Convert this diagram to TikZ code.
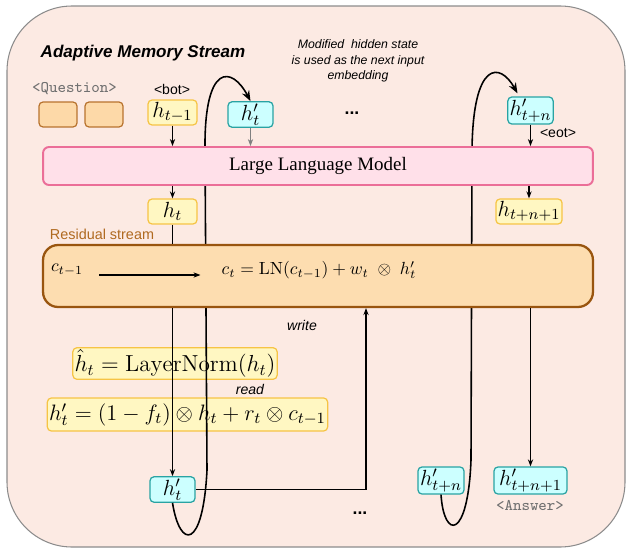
\RequirePackage{fix-cm}
\documentclass[tikz,border=0pt]{standalone}
\usepackage{amsmath}
\usepackage{fontspec}
\setsansfont{Liberation Sans}
\newfontfamily\llmfont{Liberation Serif}
\usetikzlibrary{arrows.meta,calc}

\definecolor{bgpeach}{HTML}{FCEAE3}
\definecolor{frameGray}{HTML}{8C8C8C}
\definecolor{yfill}{HTML}{FFF7C2}
\definecolor{ybord}{HTML}{F6C445}
\definecolor{cfill}{HTML}{CCFFFF}
\definecolor{cbord}{HTML}{29A3A3}
\definecolor{ofill}{HTML}{FDD9A8}
\definecolor{obord}{HTML}{B8732E}
\definecolor{llmFill}{HTML}{FFE0E9}
\definecolor{llmBord}{HTML}{EB6E98}
\definecolor{resFill}{HTML}{FDDDB0}
\definecolor{resBord}{HTML}{99550F}
\definecolor{resText}{HTML}{B06A20}
\definecolor{tagGray}{HTML}{707070}

\begin{document}
\begin{tikzpicture}[x=0.02cm, y=-0.02cm,
  tok/.style={draw, rounded corners=0.08cm, line width=0.7pt, inner sep=1pt,
    minimum height=0.5cm, font=\fontsize{12.5}{15}\selectfont},
  ybox/.style={tok, draw=ybord, fill=yfill},
  cbox/.style={tok, draw=cbord, fill=cfill},
  obox/.style={tok, draw=obord, fill=ofill, minimum width=0.76cm},
  lbl/.style={font=\sffamily\fontsize{8}{10}\selectfont},
  lbli/.style={font=\sffamily\itshape\fontsize{8}{10}\selectfont},
  tag/.style={font=\ttfamily\fontsize{9.2}{11}\selectfont, text=tagGray},
  dots/.style={font=\sffamily\bfseries\fontsize{10}{12}\selectfont},
  link/.style={-{Stealth[length=4pt,width=3pt]}, line width=0.6pt},
  loop/.style={-{Stealth[length=6pt,width=4.5pt]}, line width=0.9pt},
]
  \useasboundingbox (0,0) rectangle (629,551);
  % Frame
  \draw[draw=frameGray, fill=bgpeach, rounded corners=1.3cm, line width=0.6pt]
    (7,6) rectangle (625,547);
  \node[font=\sffamily\bfseries\itshape\fontsize{9.7}{12}\selectfont] (title) at (143,53)
    {Adaptive Memory Stream};
  \node[align=center, font=\sffamily\itshape\fontsize{7}{8.8}\selectfont] (note) at (358,61)
    {Modified\ \ hidden state\\is used as the next input\\embedding};
  % Inputs
  \node[tag] (qlbl) at (74.5,89) {<Question>};
  \node[obox] (q1) at (58,114.5) {};
  \node[obox] (q2) at (104,114.5) {};
  \node[lbl] (bot) at (172,89) {<bot>};
  \node[ybox, minimum width=0.98cm] (hprev) at (172.5,112.5) {$h_{t-1}$};
  \node[cbox, minimum width=0.9cm] (hp) at (250.5,114.5) {$h'_t$};
  \node[dots] (dtop) at (352,113) {...};
  \node[cbox, minimum width=0.9cm] (hpn1) at (530.5,110.5) {$h'_{t+n}$};
  \node[lbl] (eot) at (558,133) {<eot>};
  % Outputs of the model
  \node[ybox, minimum width=0.98cm] (ht) at (172.5,211.5) {$h_t$};
  \node[ybox, minimum width=1.28cm] (htn1) at (529,211.5) {$h_{t+n+1}$};
  \node[font=\sffamily\fontsize{8.2}{10}\selectfont, text=resText] (rlbl) at (102,234)
    {Residual stream};
  % Read step
  \node[ybox, font=\fontsize{13.2}{16}\selectfont, minimum width=4.08cm, minimum height=0.46cm]
    (ln) at (175,363.5) {$\hat{h}_t = \mathrm{LayerNorm}(h_t)$};
  \node[lbli] (read) at (250,389) {read};
  \node[ybox, font=\fontsize{12.7}{15}\selectfont, minimum width=5.58cm, minimum height=0.66cm]
    (hform) at (187.5,414.5) {$h'_t = (1-f_t)\otimes h_t + r_t\otimes c_{t-1}$};
  \node[lbli] (write) at (302,325) {write};
  % Modified states
  \node[cbox, minimum width=0.9cm] (hpt) at (172.5,489.5) {$h'_t$};
  \node[dots] (dbot) at (360,513) {...};
  \node[cbox, minimum width=0.92cm] (hpn) at (441,480.5) {$h'_{t+n}$};
  \node[cbox, minimum width=1.46cm] (hpn2) at (530.5,480.5) {$h'_{t+n+1}$};
  \node[tag] (ans) at (530,505) {<Answer>};
  % Feedback loops
  \draw[loop] (hpt.south) .. controls (180,550) and (203,550) .. (207,470)
    -- (205,150) .. controls (204,62) and (232,66) .. (hp.north);
  \draw[loop] (hpn.south) .. controls (444,540) and (468,540) .. (471,460)
    -- (472,150) .. controls (473,60) and (500,62) .. ($(hpn1.north)+(-13,-3)$);
  % Model and residual stream
  \node[draw=llmBord, fill=llmFill, line width=1.1pt, rounded corners=0.12cm,
    minimum width=11cm, minimum height=0.76cm, font=\llmfont\fontsize{10.8}{13}\selectfont]
    (llm) at (318,166) {Large Language Model};
  \node[draw=resBord, fill=resFill, line width=1.3pt, rounded corners=0.3cm,
    minimum width=11cm, minimum height=1.24cm] (res) at (318,276) {};
  \node (cprev) at (67,270) {$c_{t-1}$};
  \node (cnew) at (319,270) {$c_t = \mathrm{LN}(c_{t-1}) + w_t \;\otimes\; h'_t$};
  \draw[link] ($(cprev.east)+(10,5)$) -- ($(cnew.west)+(-15,5)$);
  % Connectors
  \draw[link] (hprev.south) -- (hprev.south |- llm.north);
  \draw[link] (ht.north |- llm.south) -- (ht.north);
  \draw[line width=0.6pt] (ht.south) -- (ht.south |- res.north);
  \draw[link] (ht.south |- res.south) -- (hpt.north);
  \draw[link, draw=gray, line width=0.4pt] (hp.south) -- (hp.south |- llm.north);
  \draw[link] (hpn1.south) -- (hpn1.south |- llm.north);
  \draw[link] (htn1.north |- llm.south) -- (htn1.north);
  \draw[link] (hpn2.north |- res.south) -- (hpn2.north);
  \coordinate (wx) at (366,400);
  \draw[link] (hpt.east) -- (hpt.east -| wx) -- (wx |- res.south);
\end{tikzpicture}
\end{document}
